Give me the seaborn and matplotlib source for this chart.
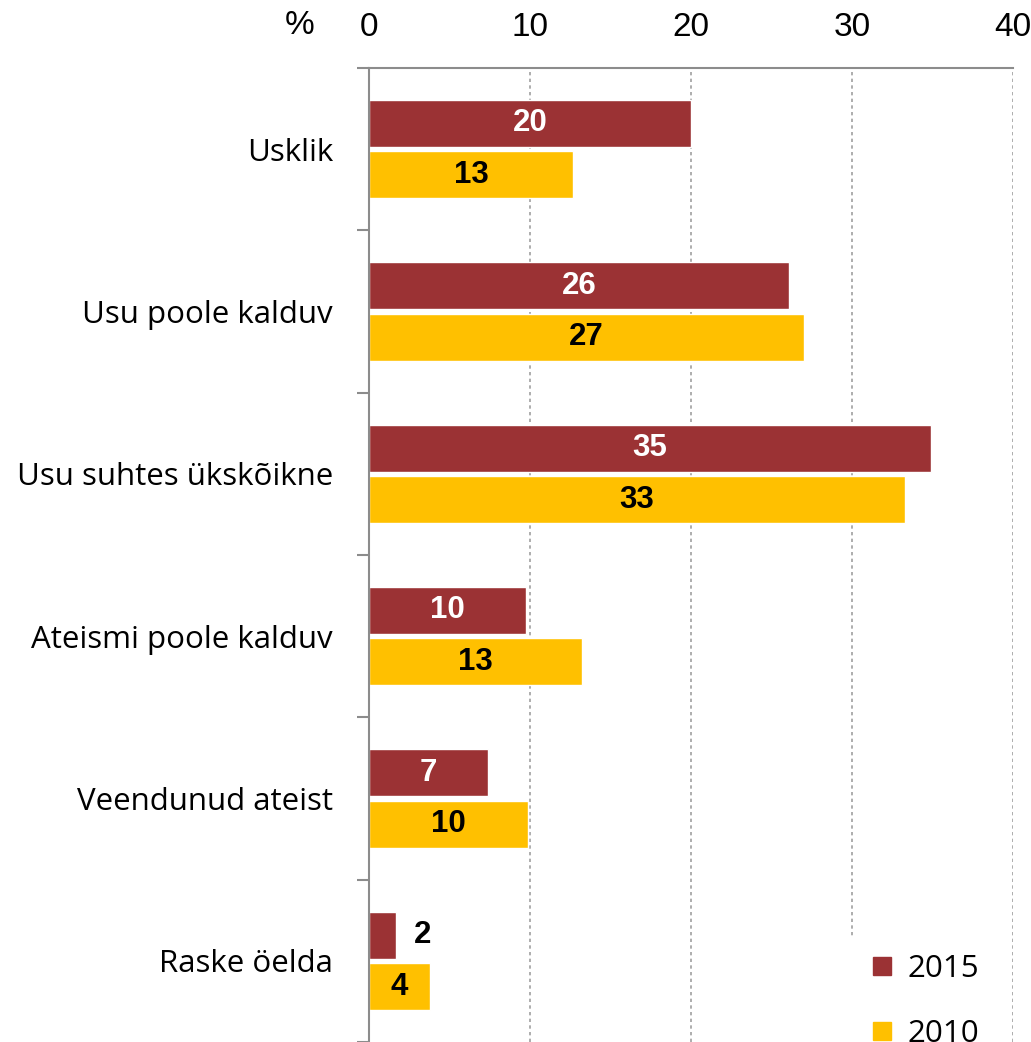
import numpy as np
import pandas as pd
import seaborn as sns
import matplotlib.pyplot as plt
from matplotlib.lines import Line2D

categories = ["Usklik", "Usu poole kalduv", "Usu suhtes ükskõikne",
              "Ateismi poole kalduv", "Veendunud ateist", "Raske öelda"]
years = ["2015", "2010"]
values_2015 = [20.0, 26.1, 34.9, 9.75, 7.4, 1.7]
values_2010 = [12.7, 27.0, 33.3, 13.2, 9.9, 3.8]
x_ticks = [0, 10, 20, 30, 40]

colors = {"2015": "#9b3234", "2010": "#ffc000"}
label_colors = {"2015": "white", "2010": "black"}

df = pd.DataFrame({
    "category": categories * 2,
    "year": ["2015"] * len(categories) + ["2010"] * len(categories),
    "value": values_2015 + values_2010,
})

sns.set_style("white")
plt.rcParams["font.family"] = ["Liberation Sans Narrow", "Liberation Sans", "DejaVu Sans"]
plt.rcParams["text.color"] = "black"
plt.rcParams["xtick.color"] = "black"
plt.rcParams["ytick.color"] = "black"

fig = plt.figure(figsize=(10.31, 10.42), dpi=100)
ax = fig.add_axes([369 / 1031, 0.0, (1013 - 369) / 1031, 1 - 68 / 1042])

sns.barplot(data=df, y="category", x="value", hue="year", hue_order=years,
            order=categories, palette=colors, saturation=1, orient="h",
            width=0.636, gap=0.09, ax=ax, legend=False)

ax.set_xlim(0, 40)
ax.set_ylim(5.5, -0.5)
ax.set_xlabel("")
ax.set_ylabel("")

# value labels
for cont, yr in zip(ax.containers, years):
    for bar, v in zip(cont, cont.datavalues):
        yc = bar.get_y() + bar.get_height() / 2
        lab = f"{round(v):.0f}"
        if v < 3 and yr == "2015":
            ax.text(v + 1.6, yc, lab, ha="center", va="center", fontsize=22.5,
                    fontweight="bold", color="black")
        else:
            ax.text(v / 2, yc, lab, ha="center", va="center", fontsize=22.5,
                    fontweight="bold", color=label_colors[yr])

# x axis on top
ax.xaxis.tick_top()
ax.set_xticks(x_ticks)
ax.set_xticklabels([str(t) for t in x_ticks], fontsize=24)
ax.tick_params(axis="x", length=0, pad=18)
ax.grid(axis="x", color="#a0a0a0", linestyle=(0, (2, 2)), linewidth=1.2)
ax.set_axisbelow(True)

# category labels and boundary ticks
ax.set_yticks(range(len(categories)))
ax.set_yticklabels(categories, family=["Open Sans", "DejaVu Sans"], fontsize=22.5)
ax.set_yticks(np.arange(-0.5, len(categories), 1.0), minor=True)
ax.tick_params(axis="y", which="major", length=0, pad=26)
ax.tick_params(axis="y", which="minor", length=9, width=1.5, color="#8c8c8c", left=True)

for side in ["right", "bottom"]:
    ax.spines[side].set_visible(False)
for side in ["left", "top"]:
    ax.spines[side].set_color("#8c8c8c")
    ax.spines[side].set_linewidth(1.5)

fig.text(300 / 1031, 1 - 26 / 1042, "%", fontsize=24, ha="center", va="center")

handles = [Line2D([], [], marker="s", linestyle="none", markersize=12.5,
                  markerfacecolor=colors[y], markeredgecolor=colors[y]) for y in years]
leg = ax.legend(handles, years, loc="upper left", bbox_to_anchor=(829 / 1031, 1 - 920 / 1042),
                bbox_transform=fig.transFigure, frameon=True,
                handletextpad=0.2, handlelength=1.2, labelspacing=1.1, borderpad=0.6,
                prop={"family": ["Open Sans", "DejaVu Sans"], "size": 22.5})
leg.get_frame().set_edgecolor("white")
leg.get_frame().set_facecolor("white")
leg.get_frame().set_alpha(1)

fig.savefig("out.png", dpi=100)
